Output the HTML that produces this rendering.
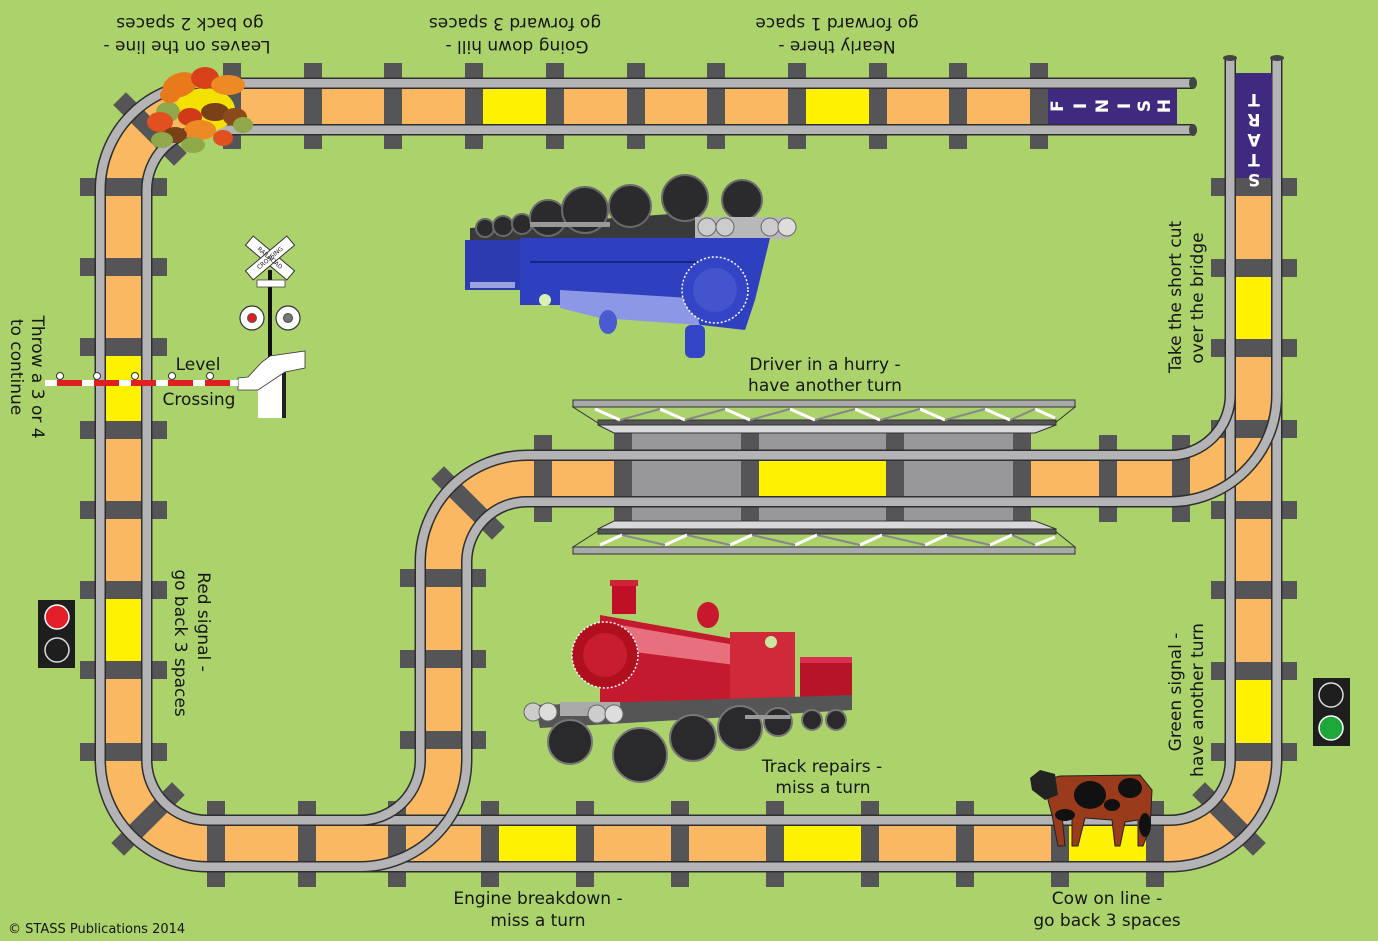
<!DOCTYPE html>
<html><head><meta charset="utf-8"><style>
html,body{margin:0;padding:0;background:#acd26c;}
svg{display:block;}
text{font-family:"DejaVu Sans","Liberation Sans",sans-serif;fill:#161616;}
text.w{fill:#fff;}
</style></head><body>
<svg width="1378" height="941" viewBox="0 0 1378 941" xmlns="http://www.w3.org/2000/svg">
<defs>
<mask id="m1" maskUnits="userSpaceOnUse" x="0" y="0" width="1378" height="941">
<path d="M1253.5,57 V760 A83.5,83.5 0 0 1 1170,843.5 H207 A83.5,83.5 0 0 1 123.5,760 V190 A83.5,83.5 0 0 1 207,106.5 H1193" fill="none" stroke="#fff" stroke-width="60"/>
<path d="M1253.5,57 V760 A83.5,83.5 0 0 1 1170,843.5 H207 A83.5,83.5 0 0 1 123.5,760 V190 A83.5,83.5 0 0 1 207,106.5 H1193" fill="none" stroke="#000" stroke-width="35"/>
</mask>
<mask id="m2" maskUnits="userSpaceOnUse" x="0" y="0" width="1378" height="941">
<path d="M330,843.5 H360 A83.5,83.5 0 0 0 443.5,760 V562 A83.5,83.5 0 0 1 527,478.5 H1170 A83.5,83.5 0 0 0 1253.5,395 V360" fill="none" stroke="#fff" stroke-width="60"/>
<path d="M330,843.5 H360 A83.5,83.5 0 0 0 443.5,760 V562 A83.5,83.5 0 0 1 527,478.5 H1170 A83.5,83.5 0 0 0 1253.5,395 V360" fill="none" stroke="#000" stroke-width="35"/>
</mask>
</defs>
<rect width="1378" height="941" fill="#acd26c"/>

<!-- orange bands -->
<path d="M1253.5,57 V760 A83.5,83.5 0 0 1 1170,843.5 H207 A83.5,83.5 0 0 1 123.5,760 V190 A83.5,83.5 0 0 1 207,106.5 H1193" fill="none" stroke="#fbb862" stroke-width="37"/>
<path d="M330,843.5 H360 A83.5,83.5 0 0 0 443.5,760 V562 A83.5,83.5 0 0 1 527,478.5 H1170 A83.5,83.5 0 0 0 1253.5,395 V360" fill="none" stroke="#fbb862" stroke-width="37"/>
<rect x="1236" y="45" width="36" height="28" fill="#acd26c"/>
<rect x="1177" y="88" width="25" height="37" fill="#acd26c"/>

<!-- bridge deck -->
<rect x="614" y="432" width="416" height="90" fill="#98989b"/>

<!-- yellow squares -->
<g fill="#fff200">
<rect x="483" y="88" width="63" height="37"/>
<rect x="806" y="88" width="63" height="37"/>
<rect x="105" y="356" width="37" height="65"/>
<rect x="105" y="599" width="37" height="63"/>
<rect x="1235" y="277" width="37" height="63"/>
<rect x="1235" y="680" width="37" height="63"/>
<rect x="499" y="825" width="82" height="37"/>
<rect x="784" y="825" width="82" height="37"/>
<rect x="1069" y="825" width="78" height="37"/>
<rect x="759" y="460" width="127" height="36"/>
</g>

<!-- sleepers -->
<g fill="#555557">
<rect x="223" y="63" width="18" height="86"/><rect x="304" y="63" width="18" height="86"/><rect x="384" y="63" width="18" height="86"/><rect x="465" y="63" width="18" height="86"/><rect x="546" y="63" width="18" height="86"/><rect x="627" y="63" width="18" height="86"/><rect x="707" y="63" width="18" height="86"/><rect x="788" y="63" width="18" height="86"/><rect x="869" y="63" width="18" height="86"/><rect x="949" y="63" width="18" height="86"/><rect x="1030" y="63" width="18" height="86"/>
<rect x="80" y="178" width="87" height="18"/><rect x="80" y="258" width="87" height="18"/><rect x="80" y="338" width="87" height="18"/><rect x="80" y="421" width="87" height="18"/><rect x="80" y="501" width="87" height="18"/><rect x="80" y="581" width="87" height="18"/><rect x="80" y="661" width="87" height="18"/><rect x="80" y="743" width="87" height="18"/>
<rect x="207" y="801" width="18" height="86"/><rect x="298" y="801" width="18" height="86"/><rect x="388" y="801" width="18" height="86"/><rect x="481" y="801" width="18" height="86"/><rect x="576" y="801" width="18" height="86"/><rect x="671" y="801" width="18" height="86"/><rect x="766" y="801" width="18" height="86"/><rect x="861" y="801" width="18" height="86"/><rect x="956" y="801" width="18" height="86"/><rect x="1051" y="801" width="18" height="86"/><rect x="1146" y="801" width="18" height="86"/>
<rect x="1211" y="178" width="86" height="18"/><rect x="1211" y="259" width="86" height="18"/><rect x="1211" y="339" width="86" height="18"/><rect x="1211" y="420" width="86" height="18"/><rect x="1211" y="501" width="86" height="18"/><rect x="1211" y="581" width="86" height="18"/><rect x="1211" y="662" width="86" height="18"/><rect x="1211" y="743" width="86" height="18"/>
<rect x="400" y="569" width="86" height="18"/><rect x="400" y="650" width="86" height="18"/><rect x="400" y="731" width="86" height="18"/>
<rect x="534" y="435" width="18" height="87"/><rect x="614" y="432" width="18" height="90"/><rect x="741" y="432" width="18" height="90"/><rect x="886" y="432" width="18" height="90"/><rect x="1013" y="432" width="18" height="90"/><rect x="1099" y="435" width="18" height="87"/><rect x="1172" y="435" width="18" height="87"/>
<rect x="-43" y="-9" width="86" height="18" transform="translate(150,129) rotate(45)"/>
<rect x="-43" y="-9" width="86" height="18" transform="translate(148,819) rotate(-45)"/>
<rect x="-43" y="-9" width="86" height="18" transform="translate(1229,819) rotate(45)"/>
<rect x="-43" y="-9" width="86" height="18" transform="translate(468,503) rotate(45)"/>
</g>

<!-- rails -->
<g mask="url(#m1)" fill="none">
<path d="M1253.5,57 V760 A83.5,83.5 0 0 1 1170,843.5 H207 A83.5,83.5 0 0 1 123.5,760 V190 A83.5,83.5 0 0 1 207,106.5 H1193" stroke="#2e2e2e" stroke-width="58"/>
<path d="M1253.5,57 V760 A83.5,83.5 0 0 1 1170,843.5 H207 A83.5,83.5 0 0 1 123.5,760 V190 A83.5,83.5 0 0 1 207,106.5 H1193" stroke="#b4b4b6" stroke-width="55"/>
<path d="M1253.5,57 V760 A83.5,83.5 0 0 1 1170,843.5 H207 A83.5,83.5 0 0 1 123.5,760 V190 A83.5,83.5 0 0 1 207,106.5 H1193" stroke="#2e2e2e" stroke-width="38"/>
</g>
<g mask="url(#m2)" fill="none">
<path d="M330,843.5 H360 A83.5,83.5 0 0 0 443.5,760 V562 A83.5,83.5 0 0 1 527,478.5 H1170 A83.5,83.5 0 0 0 1253.5,395 V360" stroke="#2e2e2e" stroke-width="58"/>
<path d="M330,843.5 H360 A83.5,83.5 0 0 0 443.5,760 V562 A83.5,83.5 0 0 1 527,478.5 H1170 A83.5,83.5 0 0 0 1253.5,395 V360" stroke="#b4b4b6" stroke-width="55"/>
<path d="M330,843.5 H360 A83.5,83.5 0 0 0 443.5,760 V562 A83.5,83.5 0 0 1 527,478.5 H1170 A83.5,83.5 0 0 0 1253.5,395 V360" stroke="#2e2e2e" stroke-width="38"/>
</g>
<g fill="#444"><ellipse cx="1193" cy="83" rx="4" ry="6"/><ellipse cx="1193" cy="130" rx="4" ry="6"/><ellipse cx="1230" cy="58" rx="7" ry="3"/><ellipse cx="1277" cy="58" rx="7" ry="3"/></g>

<!-- FINISH / START -->
<rect x="1048" y="89" width="129" height="35" fill="#3f2a80"/>
<g font-weight="bold" font-size="17">
<text class="w" transform="translate(1057,106) rotate(-90)" text-anchor="middle" dy="6">F</text>
<text class="w" transform="translate(1080,106) rotate(-90)" text-anchor="middle" dy="6">I</text>
<text class="w" transform="translate(1102,106) rotate(-90)" text-anchor="middle" dy="6">N</text>
<text class="w" transform="translate(1124,106) rotate(-90)" text-anchor="middle" dy="6">I</text>
<text class="w" transform="translate(1144,106) rotate(-90)" text-anchor="middle" dy="6">S</text>
<text class="w" transform="translate(1164,106) rotate(-90)" text-anchor="middle" dy="6">H</text>
</g>
<rect x="1236" y="73" width="36" height="105" fill="#3f2a80"/>
<g font-weight="bold" font-size="17">
<text class="w" transform="translate(1254,88) rotate(180)" text-anchor="middle" dy="-6">T</text>
<text class="w" transform="translate(1254,108) rotate(180)" text-anchor="middle" dy="-6">R</text>
<text class="w" transform="translate(1254,128) rotate(180)" text-anchor="middle" dy="-6">A</text>
<text class="w" transform="translate(1254,148) rotate(180)" text-anchor="middle" dy="-6">T</text>
<text class="w" transform="translate(1254,168) rotate(180)" text-anchor="middle" dy="-6">S</text>
</g>

<!-- bridge trusses -->
<g stroke="#333" stroke-width="1">
<rect x="573" y="400" width="502" height="7" fill="#a9a9ab"/>
<polygon points="573,407 1075,407 1055,423 598,423" fill="#acd26c"/>
<rect x="598" y="420" width="458" height="5" fill="#555"/>
<polygon points="598,425 1056,425 1035,433 614,433" fill="#d8d8da"/>
<rect x="573" y="547" width="502" height="7" fill="#a9a9ab"/>
<polygon points="573,547 1075,547 1055,531 598,531" fill="#acd26c"/>
<rect x="598" y="529" width="458" height="5" fill="#555"/>
<polygon points="598,529 1056,529 1035,521 614,521" fill="#d8d8da"/>
</g>
<g stroke="#fff" stroke-width="3">
<path d="M595,409 L620,420 M660,409 L685,420 M725,409 L750,420 M790,409 L815,420 M855,409 L880,420 M920,409 L945,420 M985,409 L1010,420 M1035,409 L1055,418"/>
<path d="M600,545 L622,535 M665,545 L687,535 M730,545 L752,535 M795,545 L817,535 M860,545 L882,535 M925,545 L947,535 M990,545 L1012,535 M1035,545 L1055,537"/>
</g>
<g stroke="#888" stroke-width="2">
<path d="M620,420 L660,409 M685,420 L725,409 M750,420 L790,409 M815,420 L855,409 M880,420 L920,409 M945,420 L985,409 M1010,420 L1035,409"/>
<path d="M622,535 L665,545 M687,535 L730,545 M752,535 L795,545 M817,535 L860,545 M882,535 L925,545 M947,535 L990,545 M1012,535 L1035,545"/>
</g>

<!-- leaves -->
<g>
<ellipse cx="205" cy="110" rx="30" ry="22" fill="#f3e100"/>
<ellipse cx="180" cy="85" rx="18" ry="12" fill="#e97a1c" transform="rotate(-20 180 85)"/>
<ellipse cx="205" cy="78" rx="14" ry="11" fill="#d8401a"/>
<ellipse cx="228" cy="85" rx="17" ry="10" fill="#ee8a24"/>
<ellipse cx="168" cy="112" rx="12" ry="10" fill="#8fa84a"/>
<ellipse cx="215" cy="112" rx="14" ry="9" fill="#7a4016"/>
<ellipse cx="235" cy="117" rx="12" ry="9" fill="#8a4a1a"/>
<ellipse cx="160" cy="122" rx="13" ry="10" fill="#e25020"/>
<ellipse cx="190" cy="117" rx="12" ry="9" fill="#d03a18"/>
<ellipse cx="200" cy="130" rx="16" ry="10" fill="#ee8a24"/>
<ellipse cx="175" cy="135" rx="12" ry="8" fill="#7a4016"/>
<ellipse cx="162" cy="140" rx="11" ry="8" fill="#8fa84a"/>
<ellipse cx="193" cy="145" rx="12" ry="8" fill="#8fa84a"/>
<ellipse cx="223" cy="138" rx="10" ry="8" fill="#e25020"/>
<ellipse cx="243" cy="125" rx="10" ry="8" fill="#8fa84a"/>
<ellipse cx="170" cy="95" rx="10" ry="8" fill="#e97a1c"/>
</g>

<!-- level crossing -->
<line x1="270" y1="270" x2="270" y2="365" stroke="#111" stroke-width="4"/>
<g transform="translate(270,258)">
<rect x="-27" y="-6" width="54" height="12" fill="#fff" stroke="#333" transform="rotate(40)"/>
<rect x="-27" y="-6" width="54" height="12" fill="#fff" stroke="#333" transform="rotate(-40)"/>
<text font-size="6" text-anchor="middle" transform="rotate(40)" dy="2">RAILROAD</text>
<text font-size="6" text-anchor="middle" transform="rotate(-40)" dy="2">CROSSING</text>
</g>
<rect x="257" y="280" width="28" height="7" fill="#fff" stroke="#333" stroke-width="0.7"/>
<circle cx="252" cy="318" r="12" fill="#fff" stroke="#333" stroke-width="1.2"/>
<circle cx="252" cy="318" r="4.5" fill="#e02020" stroke="#555"/>
<circle cx="288" cy="318" r="12" fill="#fff" stroke="#333" stroke-width="1.2"/>
<circle cx="288" cy="318" r="4.5" fill="#777" stroke="#444"/>
<rect x="258" y="368" width="27" height="50" fill="#fff"/>
<rect x="282" y="368" width="4" height="50" fill="#222"/>
<polygon points="238,378 248,377 262,362 270,356 305,351 305,368 285,372 258,390 238,390" fill="#fff" stroke="#333" stroke-width="0.8"/>
<rect x="45" y="380" width="193" height="6" fill="#e02020"/>
<line x1="45" y1="383" x2="238" y2="383" stroke="#fff" stroke-width="6" stroke-dasharray="12,25"/>
<g fill="#fff" stroke="#333" stroke-width="1"><circle cx="60" cy="376" r="3.5"/><circle cx="97" cy="376" r="3.5"/><circle cx="135" cy="376" r="3.5"/><circle cx="172" cy="376" r="3.5"/><circle cx="210" cy="376" r="3.5"/></g>

<!-- signals -->
<rect x="38" y="600" width="37" height="68" fill="#1e1e1e"/>
<circle cx="57" cy="617" r="12" fill="#e3202a" stroke="#fff" stroke-width="1.5"/>
<circle cx="57" cy="650" r="12" fill="#1e1e1e" stroke="#ddd" stroke-width="1.5"/>
<rect x="1313" y="678" width="37" height="68" fill="#1e1e1e"/>
<circle cx="1331" cy="695" r="12" fill="#1e1e1e" stroke="#ddd" stroke-width="1.5"/>
<circle cx="1331" cy="728" r="12" fill="#1fa83a" stroke="#fff" stroke-width="1.5"/>

<!-- blue train (upside down) -->
<g>
<polygon points="470,228 700,212 700,240 470,245" fill="#3a3a3c"/>
<g fill="#2b2b2d" stroke="#6a6a6c" stroke-width="2">
<circle cx="485" cy="228" r="9"/><circle cx="503" cy="226" r="10"/><circle cx="522" cy="224" r="10"/>
<circle cx="548" cy="218" r="18"/><circle cx="585" cy="210" r="23"/><circle cx="630" cy="206" r="21"/>
<circle cx="685" cy="198" r="23"/><circle cx="742" cy="200" r="20"/>
</g>
<rect x="530" y="222" width="80" height="5" fill="#999"/>
<rect x="695" y="217" width="95" height="22" fill="#b8b8ba"/>
<circle cx="707" cy="227" r="9" fill="#ccc" stroke="#666"/><circle cx="725" cy="227" r="9" fill="#ccc" stroke="#666"/>
<circle cx="770" cy="227" r="9" fill="#ccc" stroke="#666"/><circle cx="787" cy="227" r="9" fill="#ddd" stroke="#666"/>
<rect x="465" y="240" width="55" height="50" fill="#2c3cb0"/>
<rect x="470" y="282" width="45" height="6" fill="#9aa2e0"/>
<polygon points="520,238 770,238 755,300 745,330 640,318 560,305 520,305" fill="#2e3fbf"/>
<polygon points="560,290 690,298 700,325 600,318 560,308" fill="#8c98e6"/>
<path d="M530,262 L700,262" stroke="#1a2580" stroke-width="2"/>
<circle cx="715" cy="290" r="33" fill="#3344c6" stroke="#fff" stroke-width="1.5" stroke-dasharray="2,2"/>
<circle cx="715" cy="290" r="22" fill="#4454cc"/>
<ellipse cx="608" cy="322" rx="9" ry="12" fill="#4a5ad0"/>
<rect x="685" y="325" width="20" height="33" rx="6" fill="#3344c6"/>
<circle cx="545" cy="300" r="6" fill="#d8f0b0"/>
</g>

<!-- red train -->
<g>
<rect x="612" y="582" width="24" height="32" fill="#c01028"/>
<rect x="610" y="580" width="28" height="6" fill="#d02238"/>
<ellipse cx="708" cy="615" rx="11" ry="13" fill="#c8182e"/>
<polygon points="600,615 740,640 795,632 795,700 600,705" fill="#c41a30"/>
<polygon points="620,625 735,645 735,665 620,650" fill="#e8707e"/>
<rect x="730" y="632" width="65" height="68" fill="#d02a3a"/>
<circle cx="771" cy="642" r="6" fill="#c8e8a0"/>
<rect x="800" y="657" width="52" height="50" fill="#b81428"/>
<rect x="800" y="657" width="52" height="6" fill="#d83050"/>
<circle cx="605" cy="655" r="33" fill="#b0101e" stroke="#fff" stroke-width="1.5" stroke-dasharray="2,2"/>
<circle cx="605" cy="655" r="22" fill="#c81c30"/>
<polygon points="535,705 852,695 852,710 540,728" fill="#555"/>
<rect x="560" y="702" width="60" height="14" fill="#aaa"/>
<circle cx="533" cy="712" r="9" fill="#ccc" stroke="#666"/><circle cx="548" cy="712" r="9" fill="#ddd" stroke="#666"/>
<circle cx="597" cy="714" r="9" fill="#ccc" stroke="#666"/><circle cx="614" cy="714" r="9" fill="#ddd" stroke="#666"/>
<g fill="#2a2a2c" stroke="#777" stroke-width="2">
<circle cx="570" cy="742" r="22"/><circle cx="640" cy="755" r="27"/><circle cx="693" cy="738" r="23"/><circle cx="740" cy="728" r="22"/><circle cx="778" cy="722" r="14"/><circle cx="812" cy="720" r="10"/><circle cx="836" cy="720" r="10"/>
</g>
<rect x="745" y="715" width="45" height="4" fill="#999"/>
</g>

<!-- cow -->
<g>
<path d="M1045,780 L1060,776 L1140,775 L1152,790 L1150,828 L1143,846 L1138,846 L1138,820 L1125,822 L1120,846 L1115,846 L1112,820 L1085,818 L1078,846 L1072,846 L1072,818 L1062,815 L1065,846 L1058,846 L1052,815 L1048,800 Z" fill="#9a3c1c" stroke="#222" stroke-width="1"/>
<path d="M1030,778 L1040,770 L1055,774 L1058,795 L1045,800 L1032,790 Z" fill="#222"/>
<ellipse cx="1090" cy="795" rx="16" ry="14" fill="#111"/>
<ellipse cx="1130" cy="788" rx="12" ry="10" fill="#111"/>
<ellipse cx="1065" cy="815" rx="10" ry="6" fill="#111"/>
<ellipse cx="1145" cy="825" rx="6" ry="12" fill="#111"/>
<ellipse cx="1112" cy="805" rx="8" ry="6" fill="#111"/>
</g>

<!-- texts -->
<g font-size="17">
<text transform="translate(187,47) rotate(180)" text-anchor="middle" dy="6">Leaves on the line -</text>
<text transform="translate(190,24) rotate(180)" text-anchor="middle" dy="6">go back 2 spaces</text>
<text transform="translate(517,47) rotate(180)" text-anchor="middle" dy="6">Going down hill -</text>
<text transform="translate(515,24) rotate(180)" text-anchor="middle" dy="6">go forward 3 spaces</text>
<text transform="translate(837,47) rotate(180)" text-anchor="middle" dy="6">Nearly there -</text>
<text transform="translate(837,24) rotate(180)" text-anchor="middle" dy="6">go forward 1 space</text>
<text transform="translate(38,377) rotate(90)" text-anchor="middle" dy="6">Throw a 3 or 4</text>
<text transform="translate(17,367) rotate(90)" text-anchor="middle" dy="6">to continue</text>
<text transform="translate(204,622) rotate(90)" text-anchor="middle" dy="6">Red signal -</text>
<text transform="translate(181,643) rotate(90)" text-anchor="middle" dy="6">go back 3 spaces</text>
<text x="198" y="370" text-anchor="middle">Level</text>
<text x="199" y="405" text-anchor="middle">Crossing</text>
<text transform="translate(1175,297) rotate(-90)" text-anchor="middle" dy="6">Take the short cut</text>
<text transform="translate(1197,298) rotate(-90)" text-anchor="middle" dy="6">over the bridge</text>
<text transform="translate(1175,692) rotate(-90)" text-anchor="middle" dy="6">Green signal -</text>
<text transform="translate(1197,700) rotate(-90)" text-anchor="middle" dy="6">have another turn</text>
<text x="825" y="370" text-anchor="middle">Driver in a hurry -</text>
<text x="825" y="391" text-anchor="middle">have another turn</text>
<text x="822" y="772" text-anchor="middle">Track repairs -</text>
<text x="823" y="793" text-anchor="middle">miss a turn</text>
<text x="538" y="904" text-anchor="middle">Engine breakdown -</text>
<text x="538" y="926" text-anchor="middle">miss a turn</text>
<text x="1107" y="904" text-anchor="middle">Cow on line -</text>
<text x="1107" y="926" text-anchor="middle">go back 3 spaces</text>
<text x="8" y="933" font-size="13">© STASS Publications 2014</text>
</g>
</svg>
</body></html>
